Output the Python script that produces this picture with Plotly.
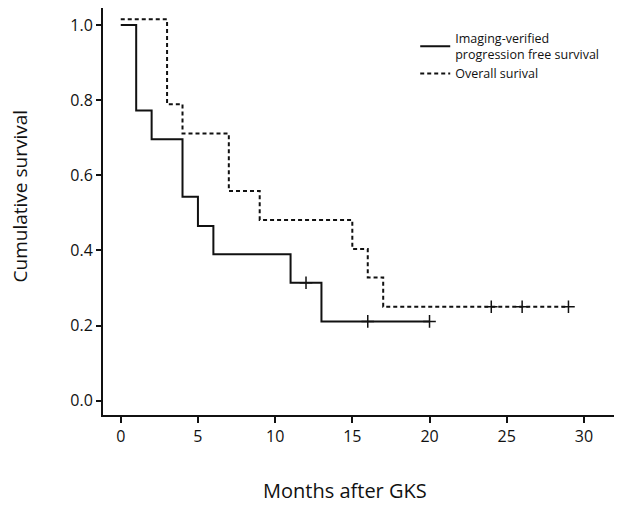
import plotly.graph_objects as go

# Imaging-verified progression free survival (Kaplan-Meier steps)
pfs_months = [0, 1, 2, 4, 5, 6, 11, 13, 20]
pfs_surv = [1.0, 0.772, 0.696, 0.543, 0.465, 0.390, 0.314, 0.211, 0.211]
pfs_cens_months = [12, 16, 20]
pfs_cens_surv = [0.314, 0.211, 0.211]

# Overall survival
os_months = [0, 3, 4, 7, 9, 15, 16, 17, 29]
os_surv = [1.015, 0.789, 0.711, 0.558, 0.481, 0.404, 0.328, 0.25, 0.25]
os_cens_months = [24, 26, 29]
os_cens_surv = [0.25, 0.25, 0.25]

x_ticks = [0, 5, 10, 15, 20, 25, 30]
y_ticks = [0.0, 0.2, 0.4, 0.6, 0.8, 1.0]

FONT = "Open Sans"
INK = "#111111"

fig = go.Figure()
fig.add_scatter(x=pfs_months, y=pfs_surv, mode="lines", line_shape="hv",
                line=dict(color=INK, width=2),
                name="Imaging-verified<br>progression free survival")
fig.add_scatter(x=os_months, y=os_surv, mode="lines", line_shape="hv",
                line=dict(color=INK, width=2, dash="4px,3px"),
                name="Overall surival")
fig.add_scatter(x=pfs_cens_months, y=pfs_cens_surv, mode="markers", showlegend=False,
                marker=dict(symbol="cross-thin-open", size=9, color=INK,
                            line=dict(color=INK, width=1.5)))
fig.add_scatter(x=os_cens_months, y=os_cens_surv, mode="markers", showlegend=False,
                marker=dict(symbol="cross-thin-open", size=9, color=INK,
                            line=dict(color=INK, width=1.5)))

# axis titles sit a bit off-centre in the original, so use annotations
fig.add_annotation(text="Months after GKS", xref="paper", yref="paper",
                   x=0.474, y=0, yshift=-75, xanchor="center", yanchor="middle",
                   showarrow=False, font=dict(size=20))
fig.add_annotation(text="Cumulative survival", xref="paper", yref="paper",
                   x=0, y=0.537, xshift=-83, xanchor="center", yanchor="middle",
                   textangle=-90, showarrow=False, font=dict(size=19))

# page body adds an 8px offset, so margins are set 8px smaller on left/top
fig.update_layout(
    width=622,
    height=505,
    template="plotly_white",
    plot_bgcolor="white",
    paper_bgcolor="white",
    margin=dict(l=95, r=16, t=0, b=98),
    font=dict(family=FONT, color=INK),
    legend=dict(x=0.611, y=0.962, xanchor="left", yanchor="top",
                font=dict(size=12.5, family=FONT), bgcolor="rgba(0,0,0,0)",
                tracegroupgap=0, itemwidth=30),
    xaxis=dict(range=[-1.15, 31.95], tickvals=x_ticks, ticks="outside", ticklen=6,
               tickwidth=1.5, tickcolor=INK, showgrid=False, zeroline=False,
               showline=True, linecolor=INK, linewidth=2, automargin=False,
               tickfont=dict(size=16)),
    yaxis=dict(range=[-0.038, 1.045], tickvals=y_ticks, tickformat=".1f",
               ticks="outside", ticklen=5, tickwidth=1.5, tickcolor=INK,
               showgrid=False, zeroline=False, showline=True, linecolor=INK,
               linewidth=2, automargin=False, tickfont=dict(size=16)),
)

fig.write_html("out.html")
